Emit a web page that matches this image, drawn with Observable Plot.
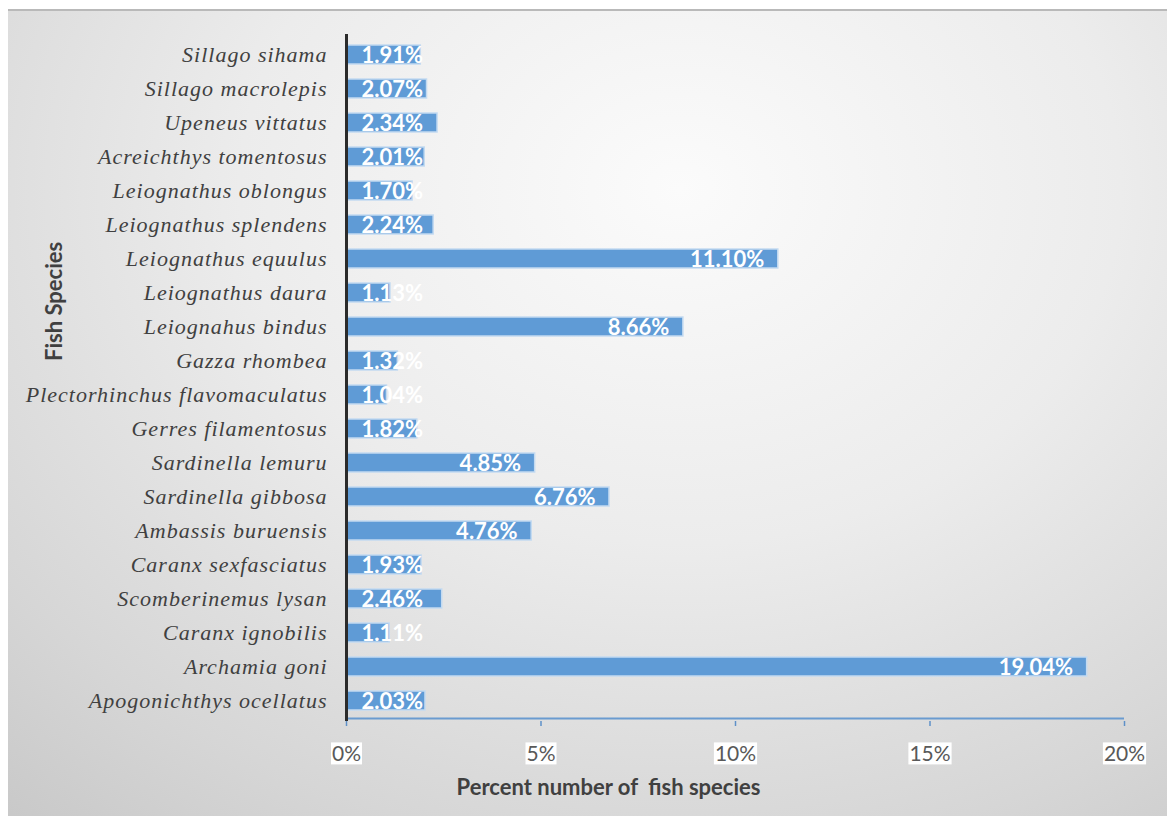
<!DOCTYPE html>
<html>
<head>
<meta charset="utf-8">
<script src="https://cdn.jsdelivr.net/npm/d3@7"></script>
<script src="https://cdn.jsdelivr.net/npm/@observablehq/plot@0.6"></script>
<style>
  html, body { margin: 0; padding: 0; background: #ffffff; }
  #wrap { position: relative; width: 1167px; height: 816px; overflow: hidden; }
  #bg {
    position: absolute; left: 8px; top: 9px; width: 1159px; height: 807px;
    background: radial-gradient(ellipse 95% 110% at 58% 22%, #fbfbfb 0%, #ececec 40%, #d6d6d6 75%, #c4c4c4 100%);
    border-top: 2px solid #b9b9b9;
  }
  #chart { position: absolute; left: 0; top: 0; }
</style>
</head>
<body>
<div id="wrap"><div id="bg"></div><div id="chart"></div></div>
<script>
const species = [
  "Sillago sihama",
  "Sillago macrolepis",
  "Upeneus vittatus",
  "Acreichthys tomentosus",
  "Leiognathus oblongus",
  "Leiognathus splendens",
  "Leiognathus equulus",
  "Leiognathus daura",
  "Leiognahus bindus",
  "Gazza rhombea",
  "Plectorhinchus flavomaculatus",
  "Gerres filamentosus",
  "Sardinella lemuru",
  "Sardinella gibbosa",
  "Ambassis buruensis",
  "Caranx sexfasciatus",
  "Scomberinemus lysan",
  "Caranx ignobilis",
  "Archamia goni",
  "Apogonichthys ocellatus"
];
const percents = [1.91, 2.07, 2.34, 2.01, 1.70, 2.24, 11.10, 1.13, 8.66, 1.32, 1.04, 1.82, 4.85, 6.76, 4.76, 1.93, 2.46, 1.11, 19.04, 2.03];
const xTicks = [0, 5, 10, 15, 20];
const xTitle = "Percent number of  fish species";
const yTitle = "Fish Species";

const data = species.map((s, i) => ({species: s, value: percents[i]}));

const chart = Plot.plot({
  width: 1167,
  height: 816,
  marginLeft: 346,
  marginRight: 43,
  marginTop: 34,
  marginBottom: 95,
  style: {background: "transparent", fontFamily: "Lato, sans-serif", overflow: "visible"},
  x: {domain: [0, 20], ticks: xTicks, tickFormat: d => d + "%"},
  y: {domain: species, paddingInner: 0.45, paddingOuter: 0.225},
  marks: [
    Plot.barX(data, {x: "value", y: "species", fill: "#5f9bd6", stroke: "#c3daf1", strokeWidth: 1.5}),
    Plot.text(data.filter(d => d.value >= 3), {
      x: "value", y: "species", text: d => d.value.toFixed(2) + "%",
      textAnchor: "end", dx: -14, dy: 1, fill: "white", fontWeight: "bold", fontSize: 22
    }),
    Plot.text(data.filter(d => d.value < 3), {
      x: d => 0, y: "species", text: d => d.value.toFixed(2) + "%",
      textAnchor: "start", dx: 15, dy: 1, fill: "white", fontWeight: "bold", fontSize: 22
    }),
    Plot.axisY({tickSize: 0, tickPadding: 19, fontSize: 22, label: null,
      fontFamily: "'Liberation Serif', serif", fontStyle: "italic", fill: "#404040"}),
    Plot.axisX({ticks: xTicks, tickFormat: d => d + "%", tickSize: 5, tickPadding: 20,
      stroke: "#5e90c8", strokeWidth: 1.5, fill: "#595959", fontSize: 21, label: null}),
    Plot.ruleY([0], {y: () => species[species.length - 1], dy: 17.5, x1: 0, x2: 20, stroke: "#6a9bd0", strokeWidth: 2}),
    Plot.ruleX([0], {stroke: "#2b2b2b", strokeWidth: 3}),
    Plot.text([xTitle], {frameAnchor: "bottom", dx: -127, dy: 73, fontWeight: "bold", fontSize: 22, fill: "#404040"}),
    Plot.text([yTitle], {frameAnchor: "left", dx: -292, dy: -17, rotate: -90, fontWeight: "bold", fontSize: 22, fill: "#404040"})
  ]
});

document.getElementById("chart").appendChild(chart);

// italic category labels with slight letter spacing
d3.select(chart).selectAll("[aria-label='y-axis tick label'] text")
  .style("letter-spacing", "1px");

// white boxes behind x tick labels
d3.select(chart).selectAll("[aria-label='x-axis tick label'] text").each(function() {
  const b = this.getBBox();
  const t = this.getAttribute("transform");
  const r = document.createElementNS("http://www.w3.org/2000/svg", "rect");
  r.setAttribute("x", b.x - 1);
  r.setAttribute("y", b.y + 2);
  r.setAttribute("width", b.width + 2);
  r.setAttribute("height", b.height - 3);
  r.setAttribute("fill", "white");
  r.setAttribute("stroke", "none");
  if (t) r.setAttribute("transform", t);
  this.parentNode.insertBefore(r, this);
});
</script>
</body>
</html>
